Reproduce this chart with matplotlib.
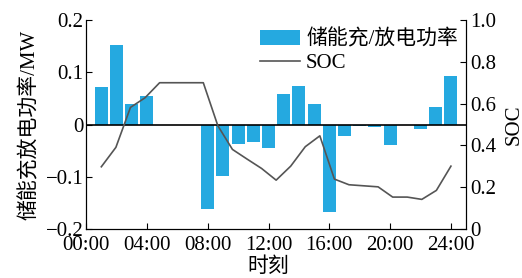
import numpy as np
import matplotlib
matplotlib.use("Agg")
import matplotlib.pyplot as plt

plt.rcParams['font.family'] = ['Liberation Serif', 'Noto Sans CJK SC']
plt.rcParams['axes.unicode_minus'] = True

# storage charge/discharge power per hour (MW)
hours = list(range(1, 25))
power = [0.072, 0.152, 0.040, 0.054, 0.0, 0.0, 0.0, -0.161,
         -0.099, -0.038, -0.034, -0.045, 0.058, 0.073, 0.040, -0.167,
         -0.022, -0.003, -0.005, -0.040, 0.0, -0.008, 0.033, 0.092]

# SOC curve (25 samples between 01:00 and 24:00)
soc = [0.298, 0.391, 0.582, 0.628, 0.700, 0.700, 0.700, 0.700, 0.494,
       0.381, 0.335, 0.290, 0.234, 0.301, 0.394, 0.446, 0.239, 0.212,
       0.207, 0.202, 0.153, 0.153, 0.142, 0.185, 0.301]
soc_x = np.linspace(1, 24, len(soc))

xticks = [0, 4, 8, 12, 16, 20, 24]
xlabels = ['00:00', '04:00', '08:00', '12:00', '16:00', '20:00', '24:00']

fs = 15
fig = plt.figure(figsize=(5.22, 2.78), dpi=100)
ax = fig.add_axes([0.165, 0.176, 0.728, 0.752])
ax.bar(hours, power, width=0.85, color='#25a9e0', label='储能充/放电功率', zorder=2)
ax.axhline(0, color='black', linewidth=1.2, zorder=3)
ax.set_xlim(0, 25)
ax.set_ylim(-0.2, 0.2)
ax.set_yticks([-0.2, -0.1, 0, 0.1, 0.2])
ax.set_yticklabels(['\u22120.2', '\u22120.1', '0', '0.1', '0.2'])
ax.set_xticks(xticks)
ax.set_xticklabels(xlabels)
ax.tick_params(direction='in', length=4, labelsize=fs, pad=2)
ax.tick_params(axis='x', pad=5)
ax.set_ylabel('储能充放电功率/MW', fontsize=fs, labelpad=4)
ax.set_xlabel('时刻', fontsize=fs)
ax.xaxis.set_label_coords(0.48, -0.135)
ax.spines['top'].set_visible(False)

ax2 = ax.twinx()
ln, = ax2.plot(soc_x, soc, color='#555555', linewidth=1.2, label='SOC')
ax2.set_ylim(0, 1.0)
ax2.set_yticks([0, 0.2, 0.4, 0.6, 0.8, 1.0])
ax2.set_yticklabels(['0', '0.2', '0.4', '0.6', '0.8', '1.0'])
ax2.tick_params(direction='in', length=4, labelsize=fs, pad=3)
ax2.set_ylabel('SOC', fontsize=fs, labelpad=6)
ax2.spines['top'].set_visible(False)

h1, l1 = ax.get_legend_handles_labels()
ax2.legend(h1 + [ln], l1 + ['SOC'], loc='upper right', frameon=False,
           fontsize=fs, borderaxespad=0.1, handlelength=1.9,
           handletextpad=0.3, labelspacing=0.2, borderpad=0.2,
           bbox_to_anchor=(0.995, 0.985))

fig.savefig('out.png', dpi=100)
